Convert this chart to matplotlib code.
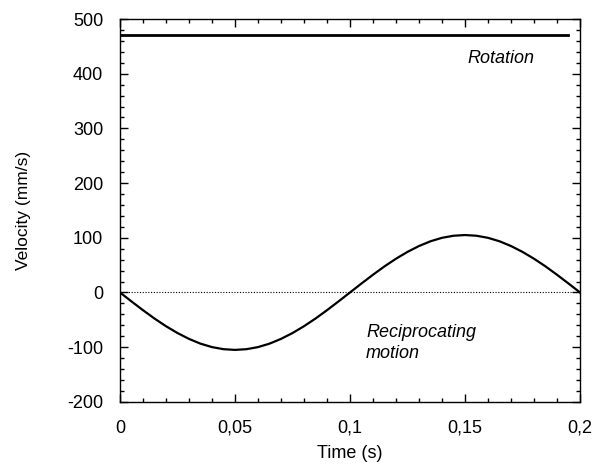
import numpy as np
import matplotlib.pyplot as plt
from matplotlib.ticker import MultipleLocator, FuncFormatter

plt.rcParams['font.family'] = ['Liberation Sans', 'DejaVu Sans']
plt.rcParams['axes.unicode_minus'] = False

# Data
time = [0.0, 0.005, 0.01, 0.015, 0.02, 0.025, 0.03, 0.035, 0.04, 0.045, 0.05,
        0.055, 0.06, 0.065, 0.07, 0.075, 0.08, 0.085, 0.09, 0.095, 0.1,
        0.105, 0.11, 0.115, 0.12, 0.125, 0.13, 0.135, 0.14, 0.145, 0.15,
        0.155, 0.16, 0.165, 0.17, 0.175, 0.18, 0.185, 0.19, 0.195, 0.2]
recip = [0, -16.4, -32.4, -47.7, -61.7, -74.2, -84.9, -93.6, -99.9, -103.7, -105,
         -103.7, -99.9, -93.6, -84.9, -74.2, -61.7, -47.7, -32.4, -16.4, 0,
         16.4, 32.4, 47.7, 61.7, 74.2, 84.9, 93.6, 99.9, 103.7, 105,
         103.7, 99.9, 93.6, 84.9, 74.2, 61.7, 47.7, 32.4, 16.4, 0]
rot_time = [0.0, 0.195]
rot_vel = [470, 470]

fig = plt.figure(figsize=(5.97, 4.75), dpi=100)
ax = fig.add_axes([0.201, 0.154, 0.7705, 0.806])

ax.axhline(0, color='black', linestyle=(0, (1, 1.5)), linewidth=0.8)
ax.plot(rot_time, rot_vel, color='black', linewidth=2)
ax.plot(time, recip, color='black', linewidth=1.6)

ax.text(0.151, 428, 'Rotation', fontsize=13, style='italic', va='center')
ax.text(0.107, -92, 'Reciprocating\nmotion', fontsize=13, style='italic',
        va='center', linespacing=1.3)

ax.set_xlim(0, 0.2)
ax.set_ylim(-200, 500)
ax.xaxis.set_major_locator(MultipleLocator(0.05))
ax.xaxis.set_minor_locator(MultipleLocator(0.01))
ax.yaxis.set_major_locator(MultipleLocator(100))
ax.yaxis.set_minor_locator(MultipleLocator(20))
ax.xaxis.set_major_formatter(FuncFormatter(lambda v, p: ('%g' % round(v, 3)).replace('.', ',')))
ax.tick_params(which='both', direction='in', top=True, right=True, labelsize=13, width=1)
ax.tick_params(which='major', length=6)
ax.tick_params(axis='x', which='major', pad=13)
ax.tick_params(axis='y', which='major', pad=12)
ax.tick_params(which='minor', length=3)
for s in ax.spines.values():
    s.set_linewidth(1)

ax.set_xlabel('Time (s)', fontsize=13, labelpad=6)
ax.set_ylabel('Velocity (mm/s)', fontsize=12.5, labelpad=26)

fig.savefig('out.png', dpi=100)
